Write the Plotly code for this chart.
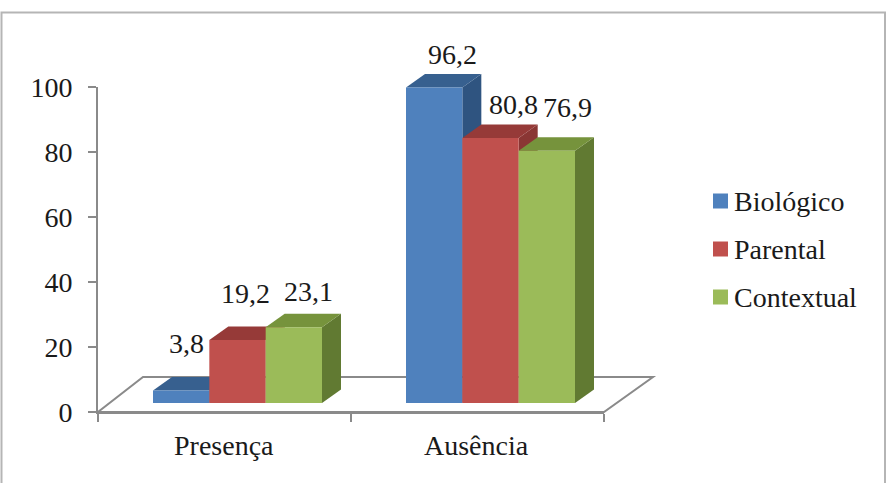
import plotly.graph_objects as go

categories = ["Presença", "Ausência"]
series_names = ["Biológico", "Parental", "Contextual"]
biologico = [3.8, 96.2]
parental = [19.2, 80.8]
contextual = [23.1, 76.9]
y_ticks = [0, 20, 40, 60, 80, 100]

W, H = 895, 483
SERIES = [
    (series_names[0], biologico, "#4F81BD", "#37608F", "#2F5480"),
    (series_names[1], parental, "#C0504D", "#963A38", "#8A3634"),
    (series_names[2], contextual, "#9BBB59", "#76933C", "#617A32"),
]

# Pixel layout of the two planes of the pseudo-3D box.
AX_L, AX_R, AX_B, AX_T = 98, 604, 412, 87        # axis plane
FRONT_DX, FRONT_B, PX_PER_UNIT = 13, 403, 3.28   # plane the bars stand on
DEPTH_X, DEPTH_Y = 19, 13.5                      # extrusion of each bar
FLOOR_DX, FLOOR_DY = 49, 35
GROUP_W = 0.668
FONT = "Liberation Serif"
FS = 28
INK = "#1A1A1A"
AXIS_GREY = "#8A8A8A"

# Hand-placed value labels: pixel offset from the top-centre of each bar.
LABEL_OFFSETS = {
    "Biológico": [(5, 47), (18, 33)],
    "Parental": [(8, 47), (23, 33)],
    "Contextual": [(15, 36), (21, 43)],
}

# Key beside the plot: swatch box and text start, with the row pitch.
KEY_X0, KEY_X1, KEY_TEXT_X, KEY_FIRST_Y, KEY_PITCH, KEY_SIZE = 713, 728, 732, 201, 48, 15

positions = list(range(len(categories)))
x_unit_px = (AX_R - AX_L) / len(categories)
bar_w = GROUP_W / len(SERIES)
dx = DEPTH_X / x_unit_px
dy = DEPTH_Y / PX_PER_UNIT
Y2_MAX = 115

fig = go.Figure()
shapes = []
annotations = []

# Floor of the box, in the domain units of the axis plane.
fx = FLOOR_DX / (AX_R - AX_L)
fy = FLOOR_DY / (AX_B - AX_T)
shapes.append(dict(
    type="path", xref="x domain", yref="y domain", layer="below",
    path=f"M 0 0 L 1 0 L {1 + fx} {fy} L {45 / (AX_R - AX_L)} {fy} Z",
    line=dict(color=AXIS_GREY, width=2), fillcolor="white",
))

for i, (name, values, front, top, side) in enumerate(SERIES):
    fig.add_bar(
        x=positions, y=values, name=name, xaxis="x2", yaxis="y2",
        marker=dict(color=front, line=dict(width=0)), showlegend=False,
    )
    for p, v, (ox, oy) in zip(positions, values, LABEL_OFFSETS[name]):
        x0 = p + (i - len(SERIES) / 2) * bar_w
        x1 = x0 + bar_w
        shapes.append(dict(
            type="path", xref="x2", yref="y2", layer="below", line_width=0, fillcolor=side,
            path=f"M {x1} 0 L {x1 + dx} {dy} L {x1 + dx} {v + dy} L {x1} {v} Z",
        ))
        shapes.append(dict(
            type="path", xref="x2", yref="y2", layer="below", line_width=0, fillcolor=top,
            path=f"M {x0} {v} L {x1} {v} L {x1 + dx} {v + dy} L {x0 + dx} {v + dy} Z",
        ))
        annotations.append(dict(
            x=(x0 + x1) / 2, y=v, xref="x2", yref="y2", xshift=ox, yshift=oy,
            text=f"{v}".replace(".", ","), showarrow=False,
            font=dict(family=FONT, size=FS, color=INK),
        ))
    # Key entry
    ky = KEY_FIRST_Y + i * KEY_PITCH
    shapes.append(dict(
        type="rect", xref="paper", yref="paper", line_width=0, fillcolor=front,
        x0=KEY_X0 / W, x1=KEY_X1 / W,
        y0=1 - (ky + KEY_SIZE / 2) / H, y1=1 - (ky - KEY_SIZE / 2) / H,
    ))
    annotations.append(dict(
        x=KEY_TEXT_X / W, y=1 - ky / H, xref="paper", yref="paper",
        xanchor="left", yanchor="middle", text=name, showarrow=False,
        font=dict(family=FONT, size=FS, color=INK),
    ))

# Chart frame, open at the bottom edge of the page
shapes.append(dict(
    type="rect", xref="paper", yref="paper", layer="below",
    x0=1.5 / W, x1=885 / W, y0=-0.01, y1=1 - 12.5 / H,
    line=dict(color="#B5B5B5", width=2), fillcolor="rgba(0,0,0,0)",
))

axis_line = dict(showline=True, linecolor=AXIS_GREY, linewidth=2, ticks="outside",
                 tickcolor=AXIS_GREY, tickwidth=2, ticklen=8, showgrid=False, zeroline=False)

fig.update_layout(
    width=W, height=H, margin=dict(l=0, r=0, t=0, b=0, pad=0, autoexpand=False),
    paper_bgcolor="white", plot_bgcolor="rgba(0,0,0,0)",
    barmode="group", bargap=1 - GROUP_W, bargroupgap=0, showlegend=False,
    font=dict(family=FONT, size=FS, color=INK),
    xaxis=dict(
        domain=[AX_L / W, AX_R / W], range=[0, len(categories)],
        tickvals=[0, 1, 2], ticktext=["", "", ""], **axis_line,
    ),
    yaxis=dict(
        domain=[(H - AX_B) / H, (H - AX_T) / H], range=[0, 100],
        tickvals=y_ticks, ticklabelstandoff=10, **axis_line,
    ),
    xaxis2=dict(
        domain=[(AX_L + FRONT_DX) / W, (AX_R + FRONT_DX) / W], range=[-0.5, 1.5],
        anchor="y2", visible=False,
    ),
    yaxis2=dict(
        domain=[(H - FRONT_B) / H, (H - FRONT_B + Y2_MAX * PX_PER_UNIT) / H],
        range=[0, Y2_MAX], anchor="x2", visible=False,
    ),
    shapes=shapes,
    annotations=annotations,
)

# Category names sit midway between the tick marks of the axis plane.
for p, c in zip(positions, categories):
    fig.add_annotation(
        x=p + 0.5, y=0, xref="x", yref="y", yshift=-33, xshift=-1, text=c, showarrow=False,
        font=dict(family=FONT, size=FS, color=INK),
    )

fig.write_html("out.html", config=dict(displayModeBar=False))
